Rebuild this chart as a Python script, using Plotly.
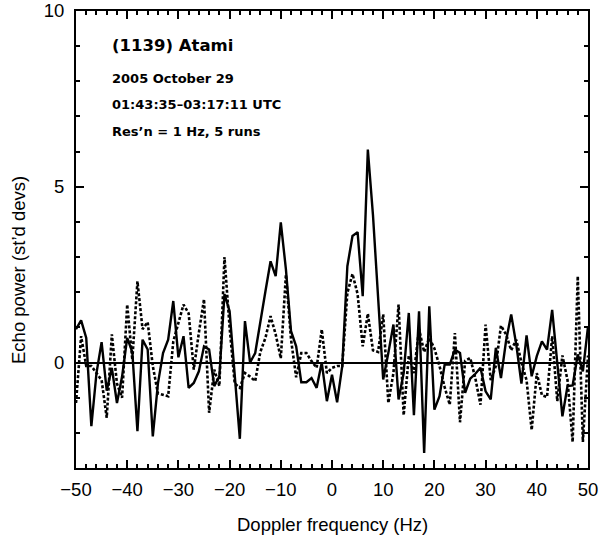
import plotly.graph_objects as go

# Doppler frequency bins (Hz), 1 Hz resolution
freq = list(range(-50, 51))

# Solid curve: echo power (st'd devs)
solid_power = [
    0.95, 1.2, 0.7, -1.81, -0.3, 0.58, -0.8, -0.15, -1.15, -0.4,
    0.7, 0.3, -1.95, 0.65, 0.37, -2.1, -0.6, 0.27, 0.65, 1.75,
    0.15, 0.75, -0.72, -0.58, -0.25, 0.46, 0.37, -0.67, -0.39, 1.95,
    1.46, -0.4, -2.17, 1.18, 0.0, 0.27, 1.22, 2.03, 2.88, 2.46,
    3.99, 2.65, 0.89, 0.46, -0.56, -0.56, -0.44, -0.72, 0.0, -1.1,
    -0.35, -1.13, -0.1, 2.74, 3.6, 3.71, 1.89, 6.06, 4.2, 1.8,
    -0.48, 0.27, 1.08, -1.05, -0.3, 1.41, -1.5, 1.46, -2.57, 1.6,
    -1.34, -0.96, -0.06, -0.06, 0.37, 0.27, -0.86, -0.46, -0.32, -0.15,
    -0.82, -1.05, 0.42, -0.44, 0.62, 1.37, 0.5, -0.6, 0.77, -0.39,
    0.18, 0.6, 0.37, 1.5, -0.1, -1.53, -0.67, -0.65, 0.23, -0.25,
    1.02,
]

# Dotted curve: echo power (st'd devs)
dotted_power = [
    -1.15, 0.75, -0.1, -0.1, -0.3, -0.5, -1.57, 0.8, -0.6, -1.0,
    1.65, 0.08, 2.31, 0.95, 1.15, -0.1, -0.88, -0.91, -0.96, 0.6,
    1.15, 1.65, 1.4, -0.2, 0.85, 1.8, -1.43, -0.2, -0.67, 3.0,
    1.0, -0.6, -0.72, -0.3, -0.4, -0.53, 0.3, 0.7, 1.32, 0.8,
    0.12, 2.5, 0.65, -0.42, 0.27, 0.27, 0.04, -0.15, 0.94, -0.3,
    -0.15, -0.1, -0.1, 1.98, 2.52, 1.95, 0.46, 1.39, 0.35, 0.3,
    1.37, -1.15, -0.3, 1.65, -1.5, 0.2, -0.3, 0.95, 0.3, 0.7,
    0.4, -0.1, -0.7, -1.2, 0.84, -1.7, 0.05, 0.13, -0.45, -1.2,
    1.08, -0.5, -0.1, 1.05, 0.8, 0.35, 0.65, 0.0, -0.5, -1.92,
    -0.3, -0.93, -0.98, 0.75, -1.1, 0.2, -0.5, -2.26, 2.46, -2.26,
    0.2,
]

label_lines = [
    "(1139) Atami",
    "2005 October 29",
    "01:43:35\u201303:17:11 UTC",
    "Res\u2019n = 1 Hz, 5 runs",
]

x_title = "Doppler frequency (Hz)"
y_title = "Echo power (st\u2019d devs)"

fig = go.Figure()
fig.add_trace(go.Scatter(
    x=freq, y=dotted_power, mode="lines",
    line=dict(color="black", width=2.6, dash="3px,2px"),
    showlegend=False, hoverinfo="skip",
))
fig.add_trace(go.Scatter(
    x=freq, y=solid_power, mode="lines",
    line=dict(color="black", width=2.4),
    showlegend=False, hoverinfo="skip",
))

L, R, T, B = 76, 11, 11, 74
W, H = 599, 542
pw, ph = W - L - R, H - T - B

def px2paper(px, py):
    return (px - L) / pw, (H - B - py) / ph

tick_font = dict(family="Liberation Sans, Arial, sans-serif", size=18.5, color="black")

fig.update_xaxes(
    range=[-50, 50], tick0=-50, dtick=10,
    ticks="inside", ticklen=8, tickwidth=1.5, tickcolor="black",
    minor=dict(ticks="inside", ticklen=4, tickwidth=1.5, tickcolor="black", dtick=2, tick0=0),
    showline=True, linewidth=2, linecolor="black", mirror="ticks",
    showgrid=False, zeroline=False, tickfont=tick_font,
    ticklabelstandoff=4, automargin=False,
)
fig.update_yaxes(
    range=[-3, 10], tick0=0, dtick=5,
    ticks="inside", ticklen=8, tickwidth=1.5, tickcolor="black",
    minor=dict(ticks="inside", ticklen=4, tickwidth=1.5, tickcolor="black", dtick=1, tick0=0),
    showline=True, linewidth=2, linecolor="black", mirror="ticks",
    showgrid=False, zeroline=True, zerolinewidth=2, zerolinecolor="black",
    tickfont=tick_font, ticklabelstandoff=6, automargin=False,
)

annots = []
ys = [46, 78, 104.5, 131]
sizes = [16.5, 13, 13, 13]
for txt, py, sz in zip(label_lines, ys, sizes):
    ax, ay = px2paper(110, py)
    annots.append(dict(
        text=txt, x=ax, y=ay, xref="paper", yref="paper",
        xanchor="left", yanchor="middle", showarrow=False,
        font=dict(family="DejaVu Sans", size=sz, color="black", weight="bold"),
    ))

ax, ay = px2paper(332, 524)
annots.append(dict(text=x_title, x=ax, y=ay, xref="paper", yref="paper",
                   xanchor="center", yanchor="middle", showarrow=False,
                   font=dict(family="Liberation Sans, Arial, sans-serif", size=18.5, color="black")))
ax, ay = px2paper(18, 270)
annots.append(dict(text=y_title, x=ax, y=ay, xref="paper", yref="paper",
                   xanchor="center", yanchor="middle", showarrow=False, textangle=-90,
                   font=dict(family="Liberation Sans, Arial, sans-serif", size=18.5, color="black")))

fig.update_layout(
    width=W, height=H,
    margin=dict(l=L, r=R, t=T, b=B, autoexpand=False),
    paper_bgcolor="white", plot_bgcolor="white",
    annotations=annots,
)

fig.write_html("out.html")
